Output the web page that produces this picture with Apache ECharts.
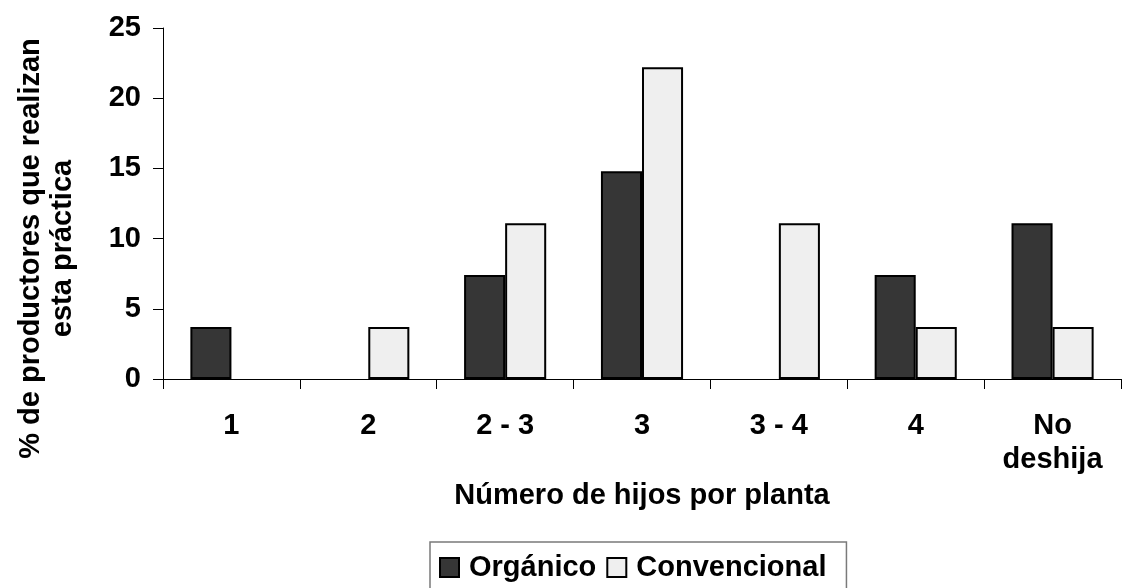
<!DOCTYPE html>
<html>
<head>
<meta charset="utf-8">
<script src="https://cdn.jsdelivr.net/npm/echarts@6/dist/echarts.min.js"></script>
<style>
html,body{margin:0;padding:0;background:#fff;}
#c{width:1122px;height:588px;}
</style>
</head>
<body>
<div id="c"></div>
<script>
const categories = ['1', '2', '2 - 3', '3', '3 - 4', '4', 'No\ndeshija'];
const organico = [3.7, 0, 7.4, 14.8, 0, 7.4, 11.1];
const convencional = [0, 3.7, 11.1, 22.2, 11.1, 3.7, 3.7];
const seriesNames = ['Orgánico', 'Convencional'];
const yTicks = [0, 5, 10, 15, 20, 25];

// zero-height bars are not drawn (no outline on the axis), as in the reference
const asBars = arr => arr.map(v => (v === 0 ? '-' : v));

const font = '"Liberation Sans", Arial, sans-serif';
const fs = 29;
const chart = echarts.init(document.getElementById('c'));
chart.setOption({
  animation: false,
  backgroundColor: '#fff',
  grid: { left: 163, right: 1, top: 28, bottom: 209, containLabel: false, outerBoundsMode: 'none' },
  legend: {
    left: 430, top: 542,
    data: seriesNames,
    icon: 'rect',
    itemWidth: 19, itemHeight: 19,
    itemGap: 10,
    padding: [11, 20, 30, 9],
    borderColor: '#7a7a7a', borderWidth: 1.5,
    textStyle: { fontFamily: font, fontWeight: 'bold', fontSize: fs, color: '#000', padding: [0, 0, 0, 5] }
  },
  xAxis: {
    type: 'category',
    data: categories,
    name: 'Número de hijos por planta',
    nameLocation: 'middle',
    nameGap: 96,
    nameTextStyle: { fontFamily: font, fontWeight: 'bold', fontSize: fs, color: '#000' },
    axisLine: { lineStyle: { color: '#000', width: 1 } },
    axisTick: { show: true, length: 10, lineStyle: { color: '#000' } },
    axisLabel: { fontFamily: font, fontWeight: 'bold', fontSize: fs, color: '#000', margin: 30, lineHeight: 34 }
  },
  yAxis: {
    type: 'value',
    min: yTicks[0], max: yTicks[yTicks.length - 1], interval: 5,
    name: '% de productores que realizan\nesta práctica',
    nameLocation: 'middle',
    nameGap: 84,
    nameTextStyle: { fontFamily: font, fontWeight: 'bold', fontSize: fs, color: '#000', lineHeight: 32, padding: [0, 90, 0, 0] },
    axisLine: { show: true, lineStyle: { color: '#000', width: 1 } },
    axisTick: { show: true, length: 10, lineStyle: { color: '#000' } },
    splitLine: { show: false },
    axisLabel: { fontFamily: font, fontWeight: 'bold', fontSize: fs, color: '#000', margin: 22 }
  },
  series: [
    {
      name: seriesNames[0], type: 'bar', data: asBars(organico),
      barGap: '0%', barCategoryGap: '40%',
      itemStyle: { color: '#363636', borderColor: '#000', borderWidth: 2 }
    },
    {
      name: seriesNames[1], type: 'bar', data: asBars(convencional),
      barGap: '0%', barCategoryGap: '40%',
      itemStyle: { color: '#efefef', borderColor: '#000', borderWidth: 2 }
    }
  ]
});
</script>
</body>
</html>
